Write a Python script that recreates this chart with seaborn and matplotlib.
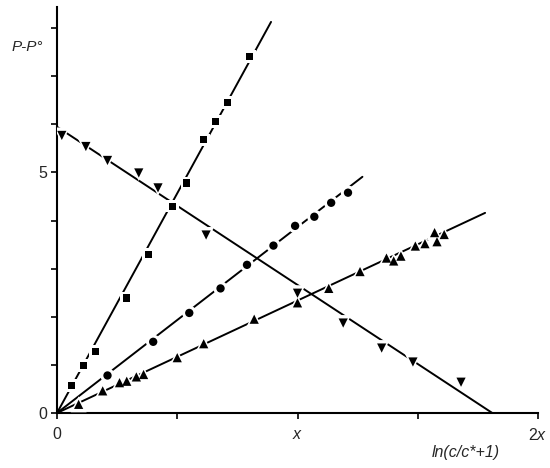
import matplotlib
matplotlib.use('Agg')
import matplotlib.pyplot as plt
import seaborn as sns
import pandas as pd

sns.set_style('ticks')
plt.rcParams['font.family'] = ['Liberation Sans', 'DejaVu Sans']
plt.rcParams['mathtext.fontset'] = 'custom'
plt.rcParams['mathtext.rm'] = 'Liberation Sans'
plt.rcParams['mathtext.it'] = 'Liberation Sans:italic'

# measured points (x in units of "x", y = P-P°)
sq_x = [0.06, 0.11, 0.16, 0.29, 0.38, 0.48, 0.54, 0.61, 0.66, 0.71, 0.80]
sq_y = [0.57, 0.99, 1.28, 2.39, 3.29, 4.30, 4.78, 5.68, 6.06, 6.45, 7.41]

ci_x = [0.21, 0.40, 0.55, 0.68, 0.79, 0.90, 0.99, 1.07, 1.14, 1.21]
ci_y = [0.78, 1.48, 2.08, 2.59, 3.08, 3.48, 3.89, 4.08, 4.37, 4.58]

tr_x = [0.09, 0.19, 0.26, 0.29, 0.33, 0.36, 0.50, 0.61, 0.82, 1.00,
        1.13, 1.26, 1.37, 1.40, 1.43, 1.49, 1.53, 1.57, 1.58, 1.61]
tr_y = [0.18, 0.46, 0.63, 0.66, 0.75, 0.80, 1.15, 1.44, 1.95, 2.29,
        2.59, 2.94, 3.22, 3.16, 3.26, 3.47, 3.52, 3.75, 3.56, 3.71]

it_x = [0.02, 0.12, 0.21, 0.34, 0.42, 0.62, 1.00, 1.19, 1.35, 1.48, 1.68]
it_y = [5.77, 5.54, 5.25, 4.99, 4.68, 3.70, 2.49, 1.87, 1.35, 1.06, 0.64]

# fitted straight lines (end points)
sq_fit_x, sq_fit_y = [0, 0.89], [0, 8.13]
ci_fit_x, ci_fit_y = [0, 1.27], [0, 4.91]
tr_fit_x, tr_fit_y = [0, 1.78], [0, 4.16]
it_fit_x, it_fit_y = [0, 1.81], [5.95, 0]

fig = plt.figure(figsize=(5.5, 4.68), dpi=100)
ax = fig.add_axes([57/550, 1-413/468, 481/550, 406/468])

for fx, fy in [(sq_fit_x, sq_fit_y), (ci_fit_x, ci_fit_y),
               (tr_fit_x, tr_fit_y), (it_fit_x, it_fit_y)]:
    sns.lineplot(x=fx, y=fy, ax=ax, color='black', lw=1.4, zorder=2)

series = [(sq_x, sq_y, 's', 27), (ci_x, ci_y, 'o', 36),
          (tr_x, tr_y, '^', 44), (it_x, it_y, 'v', 44)]
# white halo first so the lines break around every point
for xs, ys, m, s in series:
    sns.scatterplot(x=xs, y=ys, ax=ax, marker=m, s=s * 3.0, color='white',
                    edgecolor='none', zorder=3)
for xs, ys, m, s in series:
    sns.scatterplot(x=xs, y=ys, ax=ax, marker=m, s=s, color='black',
                    edgecolor='none', zorder=4)

ax.set_xlim(0, 2.0)
ax.set_ylim(0, 8.44)
ax.set_xticks([0, 0.5, 1, 1.5, 2])
ax.set_xticklabels(['0', '', r'$\it{x}$', '', r'2$\it{x}$'], fontsize=11.5)
ax.set_yticks(range(9))
ax.set_yticklabels(['0', '', '', '', '', '5', '', '', ''], fontsize=11.5)
ax.tick_params(direction='out', length=4, width=1.2, color='black')
ax.tick_params(axis='x', pad=6)
ax.tick_params(axis='y', pad=3)
sns.despine(ax=ax)
for sp in ['left', 'bottom']:
    ax.spines[sp].set_linewidth(1.5)
    ax.spines[sp].set_color('black')

ax.set_ylabel('P-P°', rotation=0, fontsize=11, style='italic')
ax.yaxis.set_label_coords(-0.062, 0.885)
ax.set_xlabel('ln(c/c*+1)', fontsize=11.5, style='italic')
ax.xaxis.set_label_coords(0.849, -0.08)

fig.savefig('out.png', dpi=100)
